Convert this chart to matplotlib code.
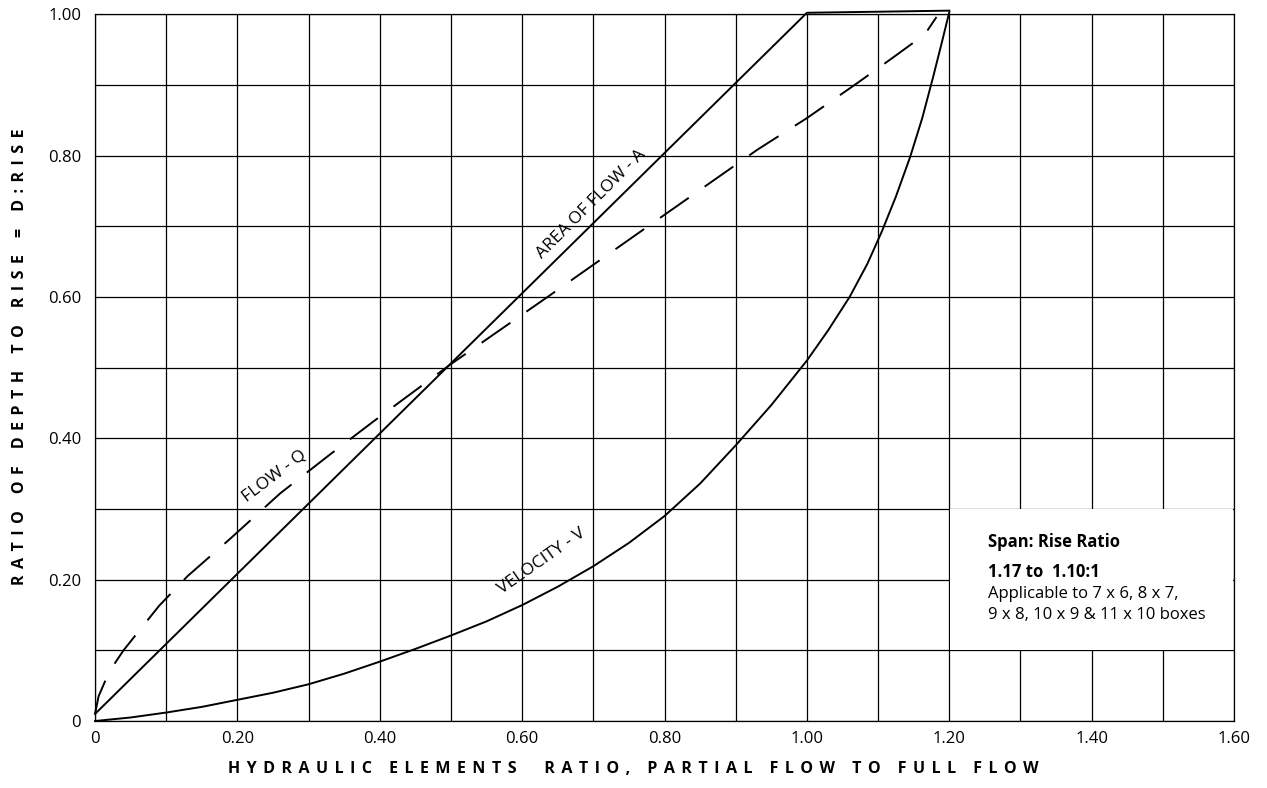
import numpy as np
import matplotlib.pyplot as plt
from matplotlib.patches import Rectangle

plt.rcParams['font.family'] = ['Open Sans', 'DejaVu Sans']

# ---- hydraulic elements ----
# area of flow - A
area_x = [0.0, 1.0, 1.2]
area_y = [0.01, 1.002, 1.005]

# flow - Q (dashed)
flow_x = [0.0, 0.005, 0.02, 0.04, 0.09, 0.13, 0.19, 0.26, 0.33, 0.39, 0.50,
          0.64, 0.76, 0.93, 1.00, 1.07, 1.12, 1.15, 1.17, 1.182]
flow_y = [0.01, 0.035, 0.07, 0.10, 0.163, 0.205, 0.258, 0.322, 0.377, 0.423, 0.505,
          0.603, 0.688, 0.808, 0.853, 0.902, 0.938, 0.960, 0.978, 0.996]

# velocity - V
vel_x = [0.0, 0.05, 0.1, 0.15, 0.2, 0.25, 0.3, 0.35, 0.4, 0.45, 0.5, 0.55, 0.6,
         0.65, 0.7, 0.75, 0.8, 0.85, 0.9, 0.95, 1.0, 1.03, 1.06, 1.085, 1.105,
         1.125, 1.145, 1.162, 1.177, 1.19, 1.2]
vel_y = [0.0, 0.005, 0.012, 0.02, 0.03, 0.04, 0.052, 0.067, 0.084, 0.102, 0.121, 0.141,
         0.164, 0.19, 0.219, 0.252, 0.29, 0.336, 0.39, 0.447, 0.51, 0.553, 0.6,
         0.647, 0.692, 0.742, 0.798, 0.853, 0.91, 0.962, 1.003]

x_ticks = [0, 0.2, 0.4, 0.6, 0.8, 1.0, 1.2, 1.4, 1.6]
x_labels = ['0', '0.20', '0.40', '0.60', '0.80', '1.00', '1.20', '1.40', '1.60']
y_ticks = [0, 0.2, 0.4, 0.6, 0.8, 1.0]
y_labels = ['0', '0.20', '0.40', '0.60', '0.80', '1.00']

x_title = 'HYDRAULIC ELEMENTS  RATIO, PARTIAL FLOW TO FULL FLOW'
y_title = 'RATIO OF DEPTH TO RISE = D:RISE'


def tracked(s, n=2):
    # widen letter spacing with thin spaces
    return ('\u2009' * n).join(s)


fig = plt.figure(figsize=(12.67, 7.88), dpi=100)
ax = fig.add_axes([0.075, 0.085, 0.899, 0.897])

ax.set_xlim(0, 1.6)
ax.set_ylim(0, 1.0)
ax.set_axisbelow(True)

ax.set_xticks(x_ticks)
ax.set_xticklabels(x_labels)
ax.set_yticks(y_ticks)
ax.set_yticklabels(y_labels)
ax.set_xticks(np.arange(0, 1.61, 0.1), minor=True)
ax.set_yticks(np.arange(0, 1.01, 0.1), minor=True)
ax.tick_params(which='both', length=0, labelsize=12)
ax.tick_params(axis='x', pad=7)
ax.tick_params(axis='y', pad=10)
ax.grid(which='both', color='black', linewidth=0.9)
for sp in ax.spines.values():
    sp.set_linewidth(0.9)

# white panel for the span/rise note
ax.add_patch(Rectangle((1.2015, 0.1), 0.3975, 0.2, facecolor='white',
                       edgecolor='none', zorder=1))

ax.plot(area_x, area_y, color='black', lw=1.4, clip_on=False, zorder=3)
ax.plot(flow_x, flow_y, color='black', lw=1.4, linestyle=(0, (18, 10)),
        clip_on=False, zorder=3)
ax.plot(vel_x, vel_y, color='black', lw=1.4, clip_on=False, zorder=3)

ax.text(0.697, 0.731, 'AREA OF FLOW - A', rotation=45, fontsize=12.5,
        ha='center', va='center', rotation_mode='anchor')
ax.text(0.252, 0.347, 'FLOW - Q', rotation=37, fontsize=12.5,
        ha='center', va='center', rotation_mode='anchor')
ax.text(0.628, 0.226, 'VELOCITY - V', rotation=35, fontsize=12.5,
        ha='center', va='center', rotation_mode='anchor')

ax.text(1.255, 0.253, 'Span: Rise Ratio', fontsize=12, fontweight='bold', va='center')
ax.text(1.255, 0.211, '1.17 to  1.10:1', fontsize=12, fontweight='bold', va='center')
ax.text(1.255, 0.180, 'Applicable to 7 x 6, 8 x 7,', fontsize=12, va='center')
ax.text(1.255, 0.150, '9 x 8, 10 x 9 & 11 x 10 boxes', fontsize=12, va='center')

fig.text(0.5, 0.024, tracked(x_title), fontsize=11.5, fontweight='bold',
         ha='center', va='center')
fig.text(0.016, 0.547, tracked(y_title), fontsize=11.5, fontweight='bold',
         ha='center', va='center', rotation=90)

fig.savefig('out.png', dpi=100)
